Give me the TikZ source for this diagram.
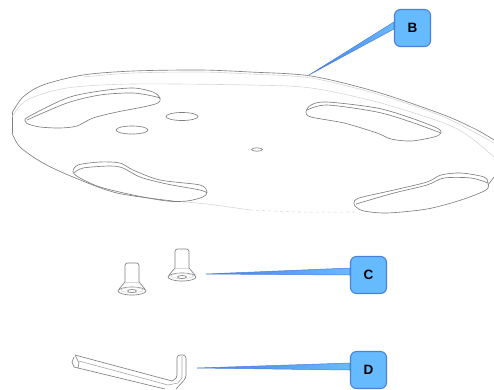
\documentclass[tikz,border=0pt]{standalone}
\usepackage{fontspec}
\setmainfont{Liberation Sans}
\usetikzlibrary{calc, backgrounds}
\definecolor{calloutfill}{HTML}{66BBFF}
\definecolor{calloutline}{HTML}{4A7FDD}
\tikzset{
  callout/.style={draw=calloutline, fill=calloutfill, line width=1.1pt, rounded corners=6pt, minimum width=36pt, minimum height=37pt, inner sep=0pt, font=\bfseries\fontsize{13.5}{13.5}\selectfont},
  wedge/.style={draw=calloutline, left color=calloutline, right color=calloutfill, line width=0.5pt, line join=round},
  partline/.style={draw=black!50, line width=0.65pt},
  faintline/.style={draw=black!16, line width=0.6pt},
}
\begin{document}
\begin{tikzpicture}[x=1pt, y=-1pt]
  \useasboundingbox (0,0) rectangle (494,389);

  \node [callout] (labelB) at (412.5,28) {B};
  \node [callout] (labelC) at (368.5,275) {C};
  \node [callout] (labelD) at (368.5,370) {D};
  \coordinate (tipB) at (309,75);
  \coordinate (tipC) at (206,274);
  \coordinate (tipD) at (197,368);

  \begin{scope}[on background layer]
    \draw [wedge] (tipB) -- ($(labelB.west)+(0,-6)$) -- ($(labelB.west)+(0,1)$) -- cycle;
    \draw [wedge] (tipC) -- ($(labelC.west)+(0,-7)$) -- ($(labelC.west)+(0,0)$) -- cycle;
    \draw [wedge] (tipD) -- ($(labelD.west)+(0,-7)$) -- ($(labelD.west)+(0,0)$) -- cycle;
  \end{scope}

  % plate, outer edge
  \draw [partline] plot [smooth] coordinates {(12,113) (23,97) (43,85) (83,75) (133,71) (200,70) (250,72) (311,76) (377,92) (444,115) (477,130) (494,140)};
  \draw [partline] (12,113) -- (12,133);
  \draw [partline] plot [smooth] coordinates {(12,133) (20,147) (43,163) (73,177) (117,193) (173,201)};
  \draw [faintline] plot [smooth] coordinates {(173,201) (207,204) (250,210)};
  \draw [faintline, dashed] plot [smooth] coordinates {(250,210) (300,212) (355,212)};

  % inner rings
  \draw [faintline] plot [smooth] coordinates {(12,117) (27,100) (67,88) (133,84) (250,85) (311,88) (377,102) (444,123) (470,137) (494,157)};
  \draw [faintline] plot [smooth] coordinates {(83,77) (133,73) (200,72) (250,74) (311,78) (377,94) (444,117) (494,143)};

  % slots
  \draw [partline] plot [smooth cycle] coordinates {(26,122) (28,117) (67,98) (100,91) (133,88) (153,92) (160,98) (158,103) (143,107) (117,112) (93,118) (77,126) (60,128) (40,127) (28,124)};
  \draw [partline] plot [smooth] coordinates {(27,120) (67,103) (100,95) (133,93) (157,97) (160,99)};

  \draw [partline] plot [smooth cycle] coordinates {(73,172) (78,165) (100,162) (120,163) (133,170) (160,180) (200,185) (207,192) (203,197) (187,201) (167,201) (133,195) (100,187) (80,178)};
  \draw [partline] plot [smooth] coordinates {(74,173) (83,168) (110,166) (123,168) (140,177) (167,184) (200,190) (207,193)};

  \draw [partline] plot [smooth cycle] coordinates {(306,112) (311,105) (327,102) (377,108) (411,118) (437,128) (441,133) (434,137) (411,141) (391,139) (377,133) (344,123) (311,117)};
  \draw [partline] plot [smooth] coordinates {(307,110) (327,105) (377,112) (411,122) (441,133)};

  \draw [partline] plot [smooth cycle] coordinates {(354,203) (359,198) (394,190) (427,182) (441,175) (461,173) (484,177) (488,183) (486,190) (461,200) (427,209) (387,213) (364,211) (356,207)};
  \draw [partline] plot [smooth] coordinates {(356,204) (394,193) (427,185) (444,178) (471,178) (488,183)};
  \draw [partline] (488,185) -- (494,177);

  % holes
  \draw [partline] (182,116.5) ellipse [x radius=16, y radius=4];
  \draw [partline] (132,130) ellipse [x radius=16, y radius=4];
  \draw [partline] (257,149.5) ellipse [x radius=5.5, y radius=1.7];

  % screws
  \foreach \sx/\sy in {132/291, 182/277} {
    \begin{scope}[shift={(\sx,\sy)}]
      \draw [partline, rounded corners=2.5pt] (-7,-9) -- (-7,-28) -- (7,-28) -- (7,-9);
      \draw [partline] (-7,-9) -- (-13,-2);
      \draw [partline] (7,-9) -- (13,-2);
      \draw [faintline] (-7,-9) -- (7,-9);
      \draw [partline] (0,0) ellipse [x radius=14, y radius=4];
      \draw [faintline] (0,-1) ellipse [x radius=11, y radius=2.5];
      \draw [partline] (0,0) ellipse [x radius=4.5, y radius=1.5];
    \end{scope}
  }

  % hex key
  \draw [partline] (75,355) -- (172,381);
  \draw [partline, rounded corners=3pt] (172,381) -- (177,378) -- (177,355) -- (186,355) -- (186,378) -- (176,389);
  \draw [partline] (74,357) -- (72,362) -- (74,367) -- (78,368) -- (79,363) -- (75,355);
  \draw [partline] (78,368) -- (165,389);
  \draw [faintline, draw=black!35] (79,361) -- (168,385);
  \draw [faintline, draw=black!35] (168,385) -- (178,383) -- (182,378) -- (182,356);
\end{tikzpicture}
\end{document}
